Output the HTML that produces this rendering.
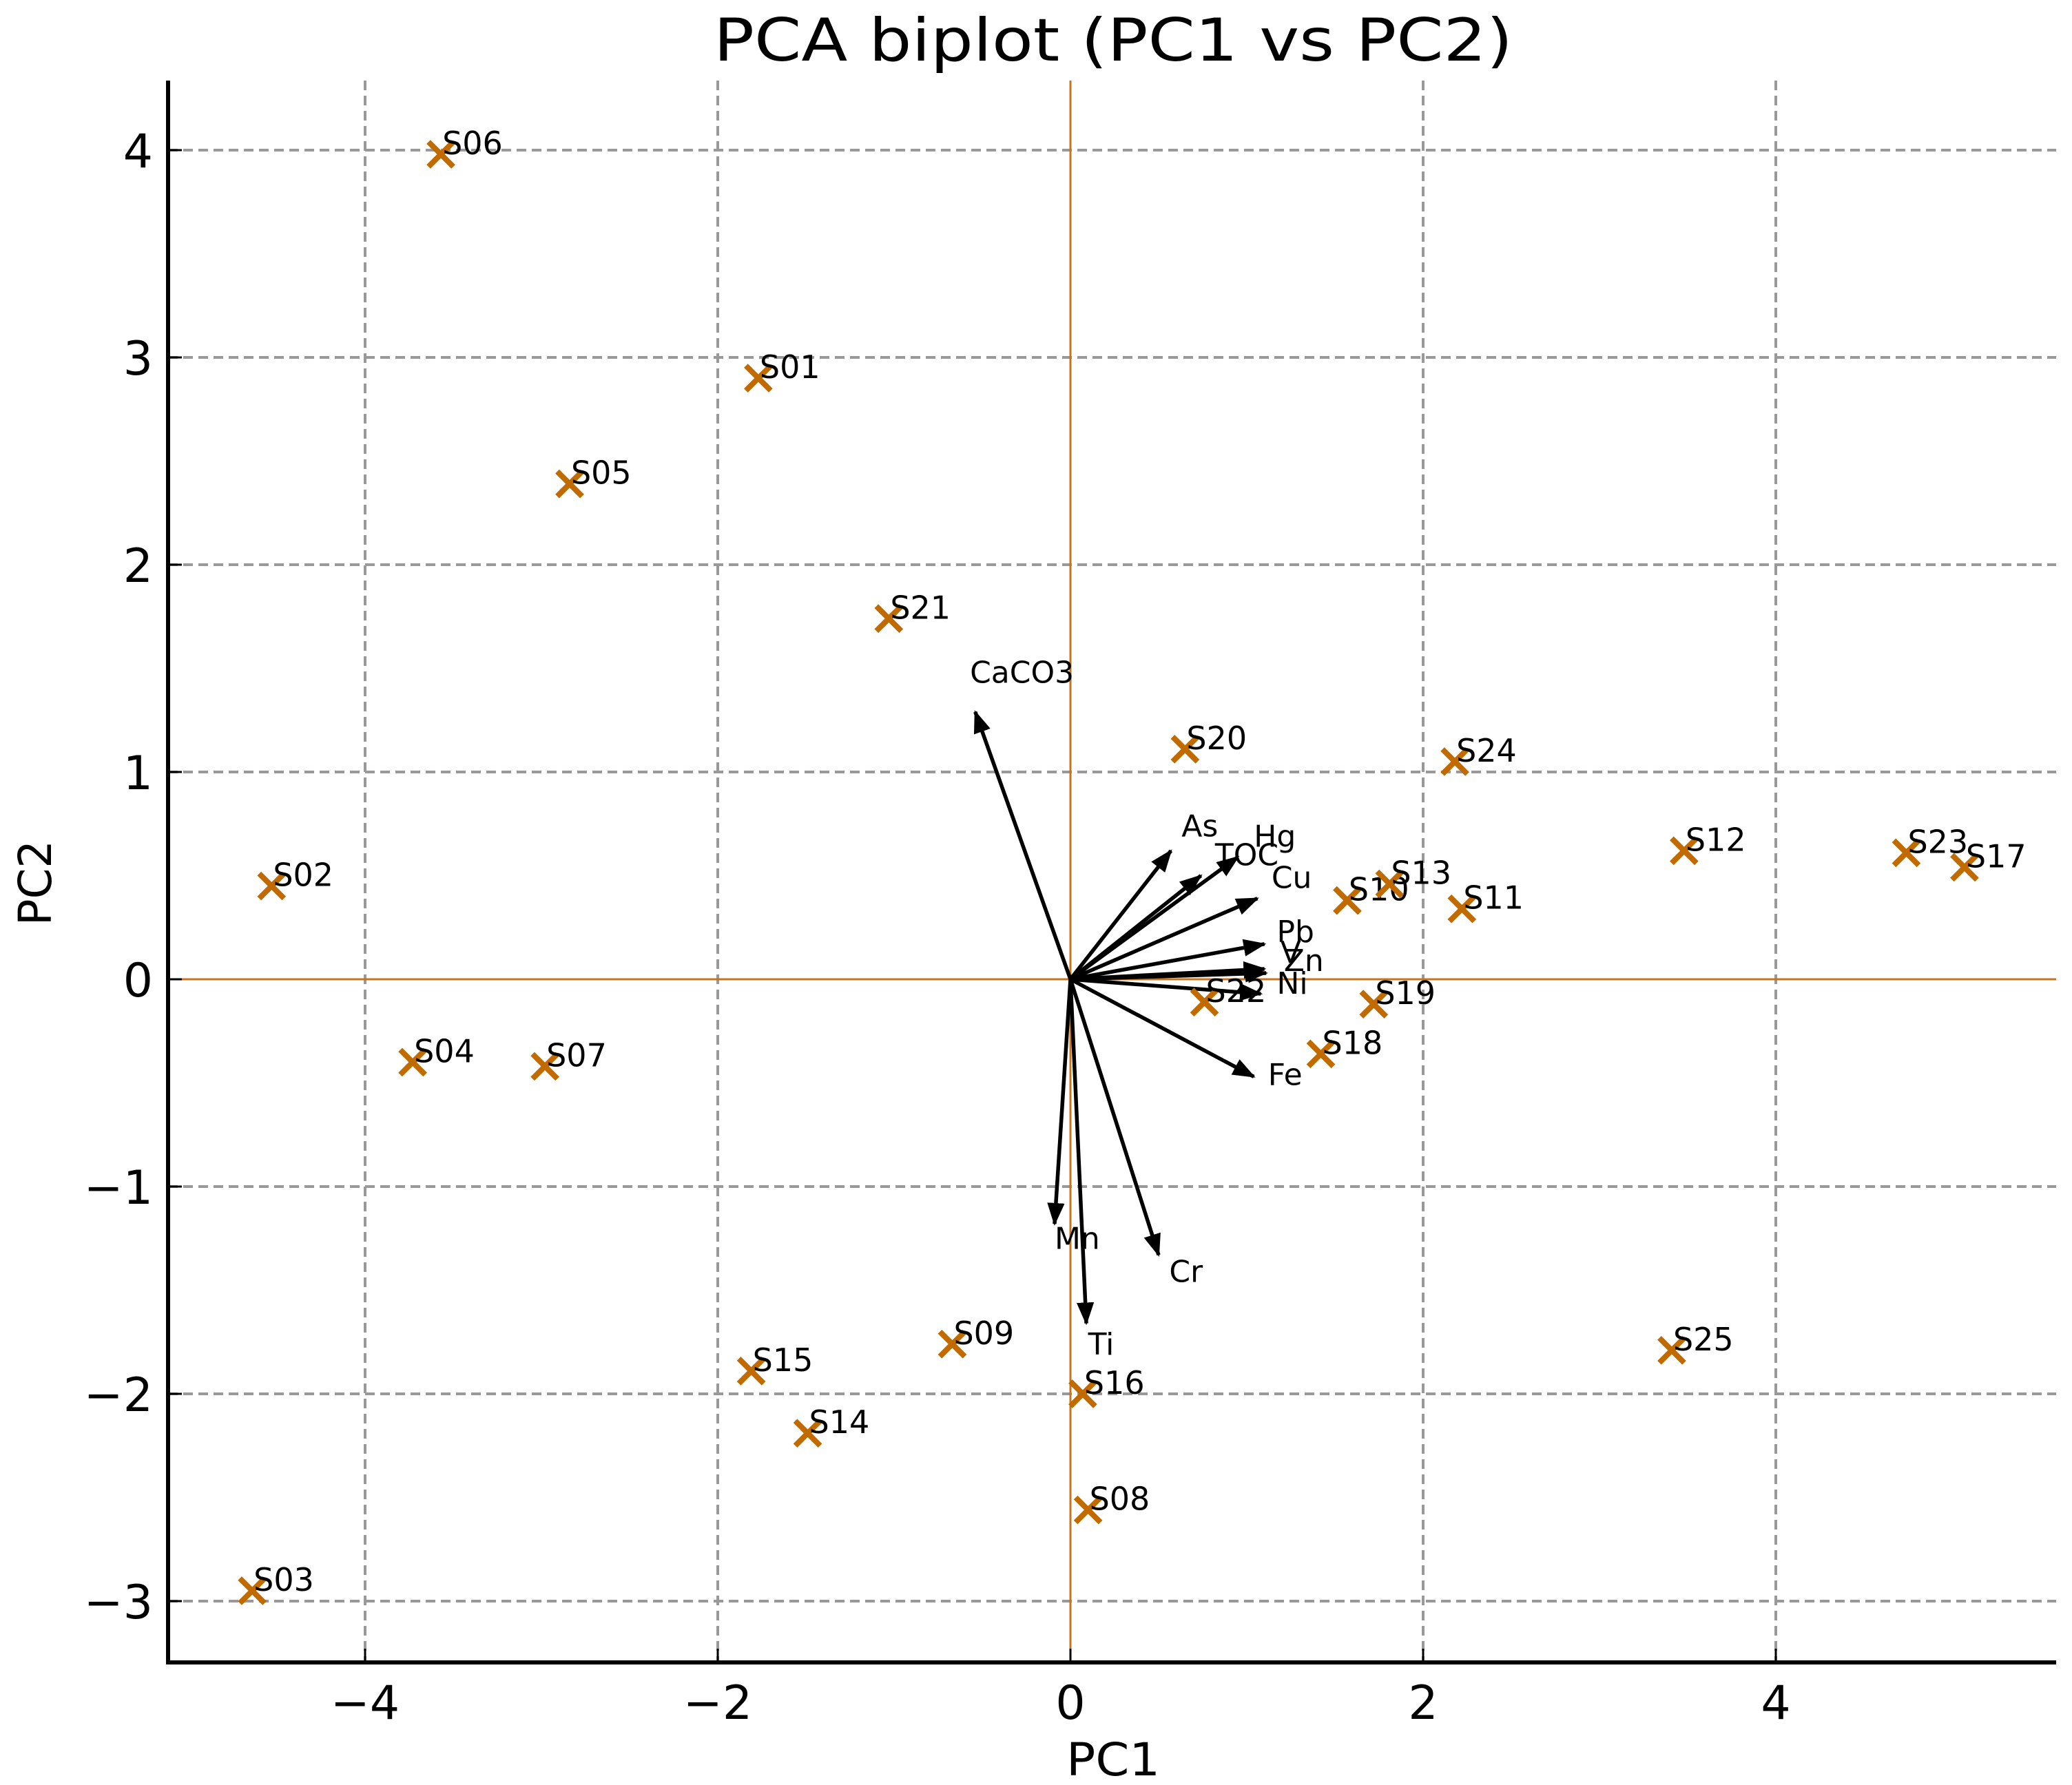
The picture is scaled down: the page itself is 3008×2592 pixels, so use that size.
<!DOCTYPE html>
<html><head><meta charset="utf-8">
<style>
html,body{margin:0;padding:0;background:#fff;}
svg{display:block;}
text{font-family:"DejaVu Sans","Liberation Sans",sans-serif;}
</style></head>
<body>
<svg id="chart" width="3008" height="2592" viewBox="0 0 3008 2592" xmlns="http://www.w3.org/2000/svg">
<defs>
<marker id="ah" markerWidth="6" markerHeight="4.6" refX="5.5" refY="2.3" orient="auto" markerUnits="strokeWidth">
<path d="M0,0 L6,2.3 L0,4.6 Z" fill="#000"/>
</marker>
</defs>
<g id="grid"></g>
<g id="refl"></g>
<g id="arrows"></g>
<g id="points"></g>
<g id="axes"></g>
<text x="1616" y="88" font-size="86" text-anchor="middle" textLength="1160" lengthAdjust="spacingAndGlyphs">PCA biplot (PC1 vs PC2)</text>
<text x="1616" y="2578" font-size="66" text-anchor="middle" textLength="136" lengthAdjust="spacingAndGlyphs">PC1</text>
<text x="0" y="0" font-size="66" text-anchor="middle" transform="translate(74,1282) rotate(-90)" textLength="124" lengthAdjust="spacingAndGlyphs">PC2</text>
</svg>
<script>
const sampleNames=["S01","S02","S03","S04","S05","S06","S07","S08","S09","S10","S11","S12","S13","S14","S15","S16","S17","S18","S19","S20","S21","S22","S23","S24","S25"];
const pc1Scores=[-1.77,-4.53,-4.64,-3.73,-2.84,-3.57,-2.98,0.10,-0.67,1.57,2.22,3.48,1.81,-1.49,-1.81,0.07,5.07,1.42,1.72,0.65,-1.03,0.76,4.74,2.18,3.41];
const pc2Scores=[2.90,0.45,-2.95,-0.40,2.39,3.98,-0.42,-2.56,-1.76,0.38,0.34,0.62,0.46,-2.19,-1.89,-2.00,0.54,-0.36,-0.12,1.11,1.74,-0.11,0.61,1.05,-1.79];
const varNames=["CaCO3","As","TOC","Hg","Cu","Pb","V","Zn","Ni","Fe","Mn","Ti","Cr"];
const loadX=[-0.54,0.57,0.74,0.95,1.06,1.10,1.10,1.11,1.08,1.04,-0.09,0.09,0.50];
const loadY=[1.29,0.62,0.50,0.59,0.39,0.17,0.05,0.03,-0.07,-0.47,-1.18,-1.66,-1.33];
const labelX=[-0.57,0.63,0.82,1.04,1.14,1.17,1.19,1.21,1.17,1.12,-0.09,0.10,0.56];
const labelY=[1.47,0.73,0.59,0.68,0.48,0.22,0.12,0.08,-0.03,-0.47,-1.26,-1.77,-1.42];
const xTicks=[-4,-2,0,2,4];
const yTicks=[-3,-2,-1,0,1,2,3,4];
const xTickLabels=["\u22124","\u22122","0","2","4"];
const yTickLabels=["\u22123","\u22122","\u22121","0","1","2","3","4"];

const NS="http://www.w3.org/2000/svg";
const L=244,R=2985,T=117,B=2414;
function sx(v){return 1554+v*256;}
function sy(v){return 1422-v*301;}
function mk(tag,attrs,parent){const e=document.createElementNS(NS,tag);for(const k in attrs)e.setAttribute(k,attrs[k]);parent.appendChild(e);return e;}

const grid=document.getElementById('grid');
xTicks.forEach(v=>{if(v===0)return;
 const l=mk('line',{x1:sx(v),x2:sx(v),y1:T,y2:B,stroke:'#999','stroke-width':4,'stroke-dasharray':'14,8'},grid);
 
 
});
yTicks.forEach(v=>{if(v===0)return;
 const l=mk('line',{x1:L,x2:R,y1:sy(v),y2:sy(v),stroke:'#999','stroke-width':4,'stroke-dasharray':'14,8'},grid);
 
 
});
const refl=document.getElementById('refl');
const h0=mk('line',{x1:L,x2:R,y1:sy(0),y2:sy(0),stroke:'#c8741e','stroke-width':3},refl);


const v0=mk('line',{x1:sx(0),x2:sx(0),y1:T,y2:B,stroke:'#c8741e','stroke-width':3},refl);



const arrows=document.getElementById('arrows');
varNames.forEach((n,i)=>{
 const a=mk('line',{x1:sx(0),y1:sy(0),x2:sx(loadX[i]),y2:sy(loadY[i]),stroke:'#000','stroke-width':5.5,'marker-end':'url(#ah)'},arrows);
 
 
 const t=mk('text',{x:sx(labelX[i]),y:sy(labelY[i]),'font-size':44,'dominant-baseline':'middle',fill:'#000'},arrows);
 t.textContent=n;
 
 
});

const pts=document.getElementById('points');
sampleNames.forEach((n,i)=>{
 const x=sx(pc1Scores[i]),y=sy(pc2Scores[i]),s=18;
 const g=mk('g',{},pts);
 
 
 mk('path',{d:`M${x-s},${y-s}L${x+s},${y+s}M${x-s},${y+s}L${x+s},${y-s}`,stroke:'#c06a00','stroke-width':8,fill:'none'},g);
 const t=mk('text',{x:x+2,y:y,'font-size':46,fill:'#000'},pts);
 t.textContent=n;
 
 
});

const axes=document.getElementById('axes');
const ls=mk('line',{x1:L,x2:L,y1:T,y2:B+3,stroke:'#000','stroke-width':6},axes);


const bs=mk('line',{x1:L-3,x2:R,y1:B,y2:B,stroke:'#000','stroke-width':6},axes);


xTicks.forEach((v,i)=>{
 mk('line',{x1:sx(v),x2:sx(v),y1:B,y2:B-20,stroke:'#000','stroke-width':3},axes);
 const t=mk('text',{x:sx(v),y:2496,'font-size':68,'text-anchor':'middle'},axes);
 t.textContent=xTickLabels[i];
 
 
});
yTicks.forEach((v,i)=>{
 mk('line',{x1:L,x2:L+20,y1:sy(v),y2:sy(v),stroke:'#000','stroke-width':3},axes);
 const t=mk('text',{x:222,y:sy(v)+25,'font-size':68,'text-anchor':'end'},axes);
 t.textContent=yTickLabels[i];
 
 
});
</script>
</body></html>
